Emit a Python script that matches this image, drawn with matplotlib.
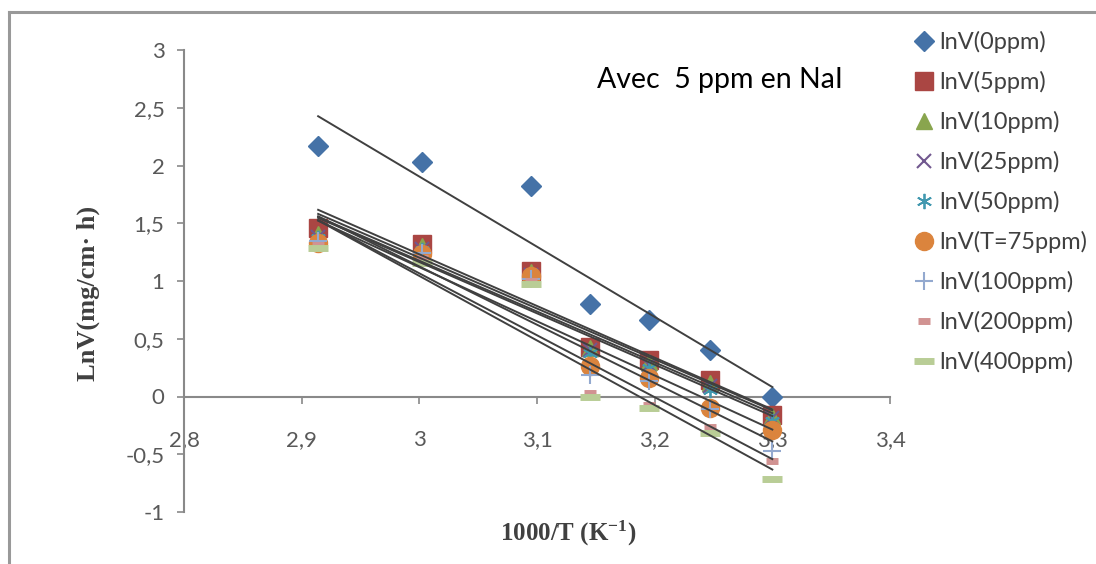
import numpy as np
import matplotlib.pyplot as plt
from matplotlib.lines import Line2D
from matplotlib.ticker import FuncFormatter

plt.rcParams['font.family'] = ['Lato', 'DejaVu Sans']
plt.rcParams['mathtext.fontset'] = 'custom'
plt.rcParams['mathtext.rm'] = 'Liberation Serif:bold'
plt.rcParams['mathtext.default'] = 'rm'

# 1000/T values
x = [2.914, 3.002, 3.095, 3.145, 3.195, 3.247, 3.300]

labels = ['lnV(0ppm)', 'lnV(5ppm)', 'lnV(10ppm)', 'lnV(25ppm)', 'lnV(50ppm)',
          'lnV(T=75ppm)', 'lnV(100ppm)', 'lnV(200ppm)', 'lnV(400ppm)']

lnv_0 = [2.165, 2.03, 1.82, 0.80, 0.66, 0.40, 0.00]
lnv_5 = [1.46, 1.32, 1.09, 0.43, 0.32, 0.14, -0.16]
lnv_10 = [1.41, 1.30, 1.08, 0.42, 0.30, 0.12, -0.17]
lnv_25 = [1.38, 1.28, 1.05, 0.40, 0.27, 0.09, -0.19]
lnv_50 = [1.37, 1.27, 1.04, 0.38, 0.25, 0.06, -0.21]
lnv_75 = [1.33, 1.23, 1.04, 0.26, 0.16, -0.10, -0.29]
lnv_100 = [1.35, 1.24, 1.02, 0.19, 0.13, -0.11, -0.47]
lnv_200 = [1.31, 1.20, 1.00, 0.03, -0.07, -0.26, -0.56]
lnv_400 = [1.29, 1.16, 0.97, 0.00, -0.10, -0.32, -0.71]

series = [lnv_0, lnv_5, lnv_10, lnv_25, lnv_50, lnv_75, lnv_100, lnv_200, lnv_400]

# marker, size, color, edge width
styles = [('D', 10, '#4572A7', 1),
          ('s', 12.5, '#AA4643', 1),
          ('^', 12, '#89A54E', 1),
          ('x', 10, '#71588F', 1.5),
          ('*', 11, '#4198AF', 1),
          ('o', 13, '#DB843D', 1),
          ('+', 13, '#93A9CF', 1.5),
          ('_', 8, '#D19392', 5),
          ('_', 15, '#B9CD96', 5)]

fig = plt.figure(figsize=(10.96, 5.64), dpi=100)
ax = fig.add_axes([184/1096, 1-512/564, (890-184)/1096, (512-50)/564])

handles = []
for y, lab, st in zip(series, labels, styles):
    m, ms, c, mew = st
    if m in ('x', '+', '_'):
        h, = ax.plot(x, y, ls='none', marker=m, ms=ms, color=c, mew=mew, label=lab, zorder=3)
    elif m == '*':
        h, = ax.plot(x, y, ls='none', marker=(6, 2, 0), ms=ms, color=c, mew=1.3, label=lab, zorder=3)
    else:
        h, = ax.plot(x, y, ls='none', marker=m, ms=ms, color=c, mec=c, label=lab, zorder=3)
    handles.append(h)

# linear trendlines
xs = np.array([x[0], x[-1]])
for y in series:
    p = np.polyfit(x, y, 1)
    ax.plot(xs, np.polyval(p, xs), color='#404040', lw=1.4, zorder=4)

ax.set_xlim(2.8, 3.4)
ax.set_ylim(-1, 3)
ax.set_xticks([2.8, 2.9, 3.0, 3.1, 3.2, 3.3, 3.4])
ax.set_yticks([-1, -0.5, 0, 0.5, 1, 1.5, 2, 2.5, 3])
fmt = FuncFormatter(lambda v, pos: ('%g' % round(v, 2)).replace('.', ','))
ax.xaxis.set_major_formatter(fmt)
ax.yaxis.set_major_formatter(fmt)

for s in ['top', 'right']:
    ax.spines[s].set_visible(False)
ax.spines['bottom'].set_position(('data', 0))
ax.spines['bottom'].set_color('#898989')
ax.spines['left'].set_color('#898989')
ax.spines['bottom'].set_linewidth(1.5)
ax.spines['left'].set_linewidth(1.5)
ax.tick_params(axis='both', colors='#898989', labelcolor='#595959', labelsize=16,
               length=5, width=1.2)
ax.tick_params(axis='x', pad=19)
ax.tick_params(axis='y', pad=9)

ax.text(597/1096, 1-80/564, 'Avec  5 ppm en NaI', transform=fig.transFigure,
        fontsize=20.5, color='black', va='center', ha='left')

fig.text(568/1096, 1-533/564, r'1000/T (K$^{-1}$)', fontsize=18, fontweight='bold',
         family='Liberation Serif', color='#404040', ha='center', va='center')
fig.text(88/1096, 1-293/564, 'LnV(mg/cm· h)', fontsize=19, fontweight='bold',
         family='Liberation Serif', color='#404040', ha='center', va='center', rotation=90)

fig.legend(handles=handles, loc='upper left', bbox_to_anchor=(912/1096, 1-31/564),
           frameon=False, fontsize=17, labelcolor='#404040', handlelength=1.0,
           handletextpad=0.15, labelspacing=0.76, borderaxespad=0, borderpad=0)

# chart frame
fig.add_artist(Line2D([9/1096, 1], [1-12/564, 1-12/564], color='#999999', lw=2.2,
                      transform=fig.transFigure))
fig.add_artist(Line2D([9/1096, 9/1096], [0, 1-12/564], color='#999999', lw=2.2,
                      transform=fig.transFigure))

fig.savefig('out.png', dpi=100)
